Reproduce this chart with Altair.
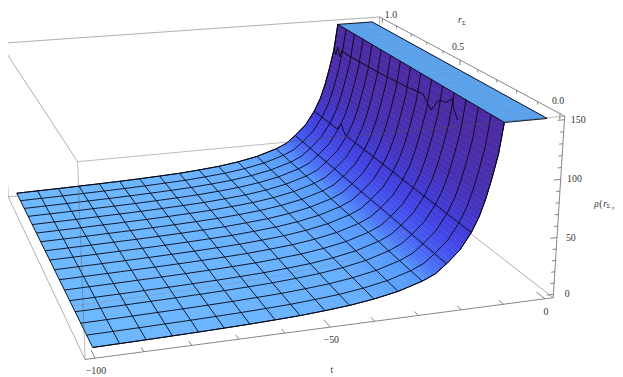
import numpy as np
import pandas as pd
import altair as alt

# ---------- values ----------
T_ROWS = [-100, -94.5, -89, -83.5, -78, -72.5, -67, -61.5, -56, -50.5, -45, -39.5, -34,
          -28.5, -25.5, -23, -20, -17.5, -15.8, -14.5, -13.2, -12, -11, -1]
RHO_ROWS = [2.5, 2.8, 3.1, 3.5, 3.9, 4.4, 5.0, 5.8, 6.7, 8.2, 10, 12.8, 16.8,
            23, 28, 35.5, 46, 60, 73, 87, 105, 124, 150, 150]
MESH_T = [-94.5, -89, -83.5, -78, -72.5, -67, -61.5, -56, -50.5, -45, -39.5, -34,
          -28.5, -23]
R_LINES = [k / 16 for k in range(17)]
GLITCH_R = [1.0, 0.985, 0.97, 0.955, 0.94, 0.9, 0.7, 0.5, 0.40, 0.35, 0.31, 0.27, 0.235, 0.23, 0.205]
GLITCH_RHO = [126, 120, 129, 120, 128, 127, 129, 132, 135, 125, 138, 140, 147, 139, 131]
BUMP_R = [0.0, 0.6, 0.76, 0.79, 0.82, 1.0]
BUMP_RHO = [60, 60, 60, 68, 60, 60]
GRAY_R = 0.22
T_TICKS = list(range(-100, 1, 10))
R_TICKS = [k / 10 for k in range(11)]
Z_TICKS = list(range(0, 151, 10))
T_LABELS = {-100: "\u2212100", -50: "\u221250", 0: "0"}
R_LABELS = {0.0: "0.0", 0.5: "0.5"}
Z_LABELS = {0: "0", 50: "50", 100: "100", 150: "150"}

# ---------- camera: box corners (t, r, rho) seen at picture pixels ----------
T0, T1, R0, R1, Z0, Z1 = -102, 2, -0.02, 1.02, -3, 153
CORNERS = [((T0, R0, Z0), (87, 362)), ((T1, R0, Z0), (560, 300)), ((T1, R0, Z1), (572, 115)),
           ((T1, R1, Z1), (385, 15)), ((T0, R1, Z1), (0, 42)), ((T0, R1, Z0), (8, 197)),
           ((T0, R0, Z1), (78, 160)), ((T1, R1, Z0), (381, 159))]


def norm(p):
    return ((p[0] - T0) / (T1 - T0), (p[1] - R0) / (R1 - R0), (p[2] - Z0) / (Z1 - Z0))


A, b = [], []
for p, (px, py) in CORNERS:
    u, v, w = norm(p)
    A.append([u, v, w, 1, 0, 0, 0, 0, -px * u, -px * v, -px * w]); b.append(px)
    A.append([0, 0, 0, 0, u, v, w, 1, -py * u, -py * v, -py * w]); b.append(py)
sol = np.linalg.lstsq(np.array(A, float), np.array(b, float), rcond=None)[0]
P = np.append(sol, 1.0).reshape(3, 4)


def proj(t, r, z):
    h = P @ np.array([*norm((t, r, z)), 1.0])
    return float(h[0] / h[2]), float(h[1] / h[2])


# ---------- surface cells, shaded by steepness ----------
STOP_S = [0.05, 0.6, 1.5, 3, 4.5, 7, 12, 20]
STOP_C = [(110, 184, 255), (102, 174, 255), (84, 150, 252), (72, 100, 244),
          (66, 72, 232), (66, 58, 212), (72, 48, 180), (76, 44, 165)]


def shade(s):
    ls = np.log(max(s, 0.05))
    return np.array([np.interp(ls, np.log(STOP_S), [q[i] for q in STOP_C]) for i in range(3)])


def to_hex(c):
    return "#%02x%02x%02x" % tuple(int(round(x)) for x in c)


n_up = T_ROWS.index(-11) + 1
slopes = [(RHO_ROWS[i + 1] - RHO_ROWS[i]) / (T_ROWS[i + 1] - T_ROWS[i]) for i in range(n_up - 1)]
vertex_s = [slopes[0]] + [(slopes[i - 1] + slopes[i]) / 2 for i in range(1, n_up - 1)] + [slopes[-1]]
vertex_c = [shade(s) for s in vertex_s]
STRIPS = 4

features = []


def cell(ta, za, tb, zb, r_a, r_b, col):
    ring = [proj(ta, r_a, za), proj(tb, r_a, zb), proj(tb, r_b, zb), proj(ta, r_b, za)]
    ring.append(ring[0])
    features.append({"type": "Feature",
                     "geometry": {"type": "Polygon", "coordinates": [[list(q) for q in ring]]},
                     "properties": {"c": col}})


for j in range(len(R_LINES) - 2, -1, -1):
    r_a, r_b = R_LINES[j], R_LINES[j + 1]
    cell(T_ROWS[-2], 150, T_ROWS[-1], 150, r_a, r_b, "#5ba2ea")
    for i in range(n_up - 2, -1, -1):
        for k in range(STRIPS - 1, -1, -1):
            f0, f1 = k / STRIPS, (k + 1) / STRIPS
            ta = T_ROWS[i] + f0 * (T_ROWS[i + 1] - T_ROWS[i])
            tb = T_ROWS[i] + f1 * (T_ROWS[i + 1] - T_ROWS[i])
            za = RHO_ROWS[i] + f0 * (RHO_ROWS[i + 1] - RHO_ROWS[i])
            zb = RHO_ROWS[i] + f1 * (RHO_ROWS[i + 1] - RHO_ROWS[i])
            fm = (f0 + f1) / 2
            cell(ta, za, tb, zb, r_a, r_b, to_hex(vertex_c[i] * (1 - fm) + vertex_c[i + 1] * fm))


def segs(rows, name, pts):
    for k, (t, r, z) in enumerate(pts):
        x, y = proj(t, r, z)
        rows.append({"id": name, "i": k, "x": x, "y": y})


X = alt.X("x:Q", scale=alt.Scale(domain=[8, 623], nice=False, zero=False), axis=None)
Y = alt.Y("y:Q", scale=alt.Scale(domain=[377, 8], nice=False, zero=False), axis=None)


def lines(rows, color, width, opacity=1.0):
    return alt.Chart(pd.DataFrame(rows)).mark_line(
        color=color, strokeWidth=width, opacity=opacity, clip=False).encode(
        x=X, y=Y, detail="id:N", order="i:Q")


# box edges behind the surface
back = []
segs(back, "fh", [(T0, R1, Z0), (T1, R1, Z0)])
segs(back, "dh", [(T1, R1, Z1), (T1, R1, Z0)])
segs(back, "bh", [(T1, R1, Z0), (T1, R0, Z0)])
segs(back, "ef", [(T0, R1, Z1), (T0, R1, Z0)])
segs(back, "fa", [(T0, R1, Z0), (T0, R0, Z0)])
segs(back, "ge", [(T0, R0, Z1), (T0, R1, Z1)])
segs(back, "ed", [(T0, R1, Z1), (T1, R1, Z1)])

surface = alt.Chart(alt.Data(values=features)).mark_geoshape(strokeWidth=0.6).encode(
    fill=alt.Fill("properties.c:N", scale=None),
    stroke=alt.Stroke("properties.c:N", scale=None),
).project(type="identity", scale=1, translate=[-8, -8])

# mesh
rows_up = [(t, z) for t, z in zip(T_ROWS, RHO_ROWS) if t <= -11]
mesh = []
for k, r in enumerate(R_LINES):
    segs(mesh, f"r{k}", [(t, r, z) for t, z in rows_up])
for t in MESH_T:
    z = RHO_ROWS[T_ROWS.index(t)]
    segs(mesh, "t%g" % t, [(t, 0, z), (t, 1, z)])
segs(mesh, "bump", [(-17.5, r, z) for r, z in zip(BUMP_R, BUMP_RHO)])
segs(mesh, "glitch", [(-12, r, z) for r, z in zip(GLITCH_R, GLITCH_RHO)])

edge = []
segs(edge, "e0", [(-100, 0, 2.5), (-100, 1, 2.5)])
segs(edge, "e1", [(-11, 0, 150), (-11, 1, 150)])
for k, r in enumerate([0, 1]):
    segs(edge, f"e2{k}", [(t, r, z) for t, z in zip(T_ROWS, RHO_ROWS)])
segs(edge, "e3", [(-1, 0, 150), (-1, 1, 150)])

gray = []
segs(gray, "g", [(t, GRAY_R, z) for t, z in zip(T_ROWS, RHO_ROWS) if t <= -23])

# box edges in front of the surface
front = []
segs(front, "gc", [(T0, R0, Z1), (T1, R0, Z1)])
segs(front, "ga", [(T0, R0, Z1), (T0, R0, Z0)])

# axes and ticks
axis = []
segs(axis, "ab", [(T0, R0, Z0), (T1, R0, Z0)])
segs(axis, "cb", [(T1, R0, Z1), (T1, R0, Z0)])
segs(axis, "cd", [(T1, R0, Z1), (T1, R1, Z1)])
for t in T_TICKS:
    segs(axis, f"tt{t}", [(t, R0, Z0), (t, R0 + (0.04 if t % 50 == 0 else 0.022), Z0)])
for r in R_TICKS:
    segs(axis, f"rt{r}", [(T1, r, Z1), (T1, r, Z1 - (5 if r in (0, 0.5, 1) else 2.5))])
for z in Z_TICKS:
    segs(axis, f"zt{z}", [(T1, R0, z), (T1 - (1.6 if z % 50 == 0 else 0.9), R0, z)])

labels = []
for t, s in T_LABELS.items():
    x, y = proj(t, R0, Z0)
    labels.append({"x": x + 1, "y": y + 13, "s": s})
for r, s in R_LABELS.items():
    x, y = proj(T1, r, Z1)
    labels.append({"x": x - 2, "y": y - 13, "s": s})
labels.append({"x": 396, "y": 13, "s": "1.0"})
for z, s in Z_LABELS.items():
    x, y = proj(T1, R0, z)
    labels.append({"x": x + 14, "y": y, "s": s})


def text_layer(rows, align="center", **kw):
    return alt.Chart(pd.DataFrame(rows)).mark_text(
        font="Liberation Serif", color="#333333", align=align, baseline="middle", clip=False, **kw
    ).encode(x=X, y=Y, text="s:N")


chart = alt.layer(
    lines(back, "#999999", 0.8),
    surface,
    lines(gray, "#7f8ca6", 0.7, 0.6),
    lines(mesh, "#05050f", 0.9),
    lines(edge, "#05050f", 0.9),
    lines(front, "#555555", 0.8, 0.5),
    lines(axis, "#666666", 0.8),
    text_layer(labels, fontSize=10),
    text_layer([{"x": 336, "y": 372, "s": "t"}], fontSize=9.5),
    text_layer([{"x": 464, "y": 18, "s": "r"}, {"x": 602, "y": 204, "s": "\u03c1"},
                {"x": 611, "y": 204, "s": "r"}], align="left", fontSize=9.5, fontStyle="italic"),
    text_layer([{"x": 607, "y": 204, "s": "("}, {"x": 620, "y": 205, "s": ","}], align="left", fontSize=9.5),
    text_layer([{"x": 468, "y": 20.5, "s": "\u03a3"}, {"x": 614.5, "y": 206.5, "s": "\u03a3"}],
               align="left", fontSize=6.5),
).properties(width=615, height=369, padding=0,
             autosize=alt.AutoSizeParams(type="none")).configure_view(stroke=None)

chart.save("out.html", embed_options={"renderer": "svg", "actions": False})
